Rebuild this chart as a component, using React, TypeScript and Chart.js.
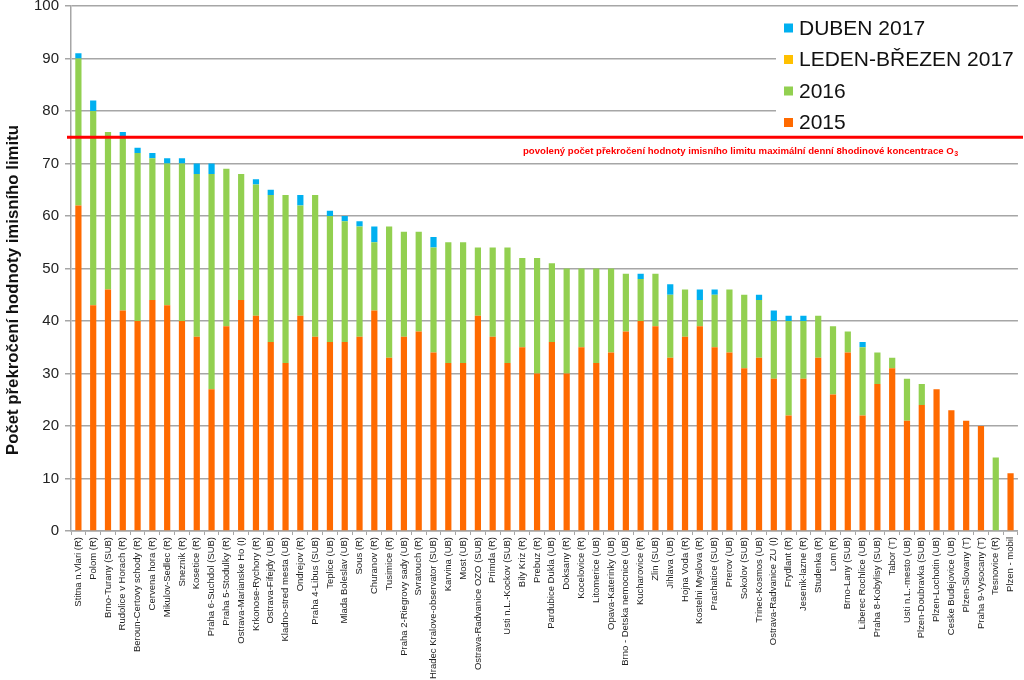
import React, { useEffect, useRef } from "react";
import { Chart, registerables } from "chart.js";

Chart.register(...registerables);

const stations = [
  "Stitna n.Vlari (R)", "Polom (R)", "Brno-Turany (SUB)", "Rudolice v Horach (R)",
  "Beroun-Certovy schody (R)", "Cervena hora (R)", "Mikulov-Sedlec (R)", "Sneznik (R)",
  "Kosetice (R)", "Praha 6-Suchdol (SUB)", "Praha 5-Stodulky (R)", "Ostrava-Marianske Ho (I)",
  "Krkonose-Rychory (R)", "Ostrava-Fifejdy (UB)", "Kladno-stred mesta (UB)", "Ondrejov (R)",
  "Praha 4-Libus (SUB)", "Teplice (UB)", "Mlada Boleslav (UB)", "Sous (R)",
  "Churanov (R)", "Tusimice (R)", "Praha 2-Riegrovy sady (UB)", "Svratouch (R)",
  "Hradec Kralove-observator (SUB)", "Karvina (UB)", "Most (UB)", "Ostrava-Radvanice OZO (SUB)",
  "Primda (R)", "Usti n.L.-Kockov (SUB)", "Bily Kriz (R)", "Prebuz (R)",
  "Pardubice Dukla (UB)", "Doksany (R)", "Kocelovice (R)", "Litomerice (UB)",
  "Opava-Katerinky (UB)", "Brno - Detska nemocnice (UB)", "Kucharovice (R)", "Zlin (SUB)",
  "Jihlava (UB)", "Hojna Voda (R)", "Kostelni Myslova (R)", "Prachatice (SUB)",
  "Prerov (UB)", "Sokolov (SUB)", "Trinec-Kosmos (UB)", "Ostrava-Radvanice ZU (I)",
  "Frydlant (R)", "Jesenik-lazne (R)", "Studenka (R)", "Lom (R)",
  "Brno-Lany (SUB)", "Liberec Rochlice (UB)", "Praha 8-Kobylisy (SUB)", "Tabor (T)",
  "Usti n.L.-mesto (UB)", "Plzen-Doubravka (SUB)", "Plzen-Lochotin (UB)", "Ceske Budejovice (UB)",
  "Plzen-Slovany (T)", "Praha 9-Vysocany (T)", "Tesnovice (R)", "Plzen - mobil",
];

const v2015 = [
  62, 43, 46, 42, 40, 44, 43, 40, 37, 27, 39, 44, 41, 36, 32, 41,
  37, 36, 36, 37, 42, 33, 37, 38, 34, 32, 32, 41, 37, 32, 35, 30,
  36, 30, 35, 32, 34, 38, 40, 39, 33, 37, 39, 35, 34, 31, 33, 29,
  22, 29, 33, 26, 34, 22, 28, 31, 21, 24, 27, 23, 21, 20, 0, 11,
];

const v2016 = [
  28, 37, 30, 33, 32, 27, 27, 30, 31, 41, 30, 24, 25, 28, 32, 21,
  27, 24, 23, 21, 13, 25, 20, 19, 20, 23, 23, 13, 17, 22, 17, 22,
  15, 20, 15, 18, 16, 11, 8, 10, 12, 9, 5, 10, 12, 14, 11, 11,
  18, 11, 8, 13, 4, 13, 6, 2, 8, 4, 0, 0, 0, 0, 14, 0,
];

const vLeden2017 = [
  0, 0, 0, 0, 0, 0, 0, 0, 0, 0, 0, 0, 0, 0, 0, 0,
  0, 0, 0, 0, 0, 0, 0, 0, 0, 0, 0, 0, 0, 0, 0, 0,
  0, 0, 0, 0, 0, 0, 0, 0, 0, 0, 0, 0, 0, 0, 0, 0,
  0, 0, 0, 0, 0, 0, 0, 0, 0, 0, 0, 0, 0, 0, 0, 0,
];

const vDuben2017 = [
  1, 2, 0, 1, 1, 1, 1, 1, 2, 2, 0, 0, 1, 1, 0, 2,
  0, 1, 1, 1, 3, 0, 0, 0, 2, 0, 0, 0, 0, 0, 0, 0,
  0, 0, 0, 0, 0, 0, 1, 0, 2, 0, 2, 1, 0, 0, 1, 2,
  1, 1, 0, 0, 0, 1, 0, 0, 0, 0, 0, 0, 0, 0, 0, 0,
];

const yTicks = [0, 10, 20, 30, 40, 50, 60, 70, 80, 90, 100];
const limitValue = 75;

const seriesNames = ["2015", "2016", "LEDEN-BŘEZEN 2017", "DUBEN 2017"];
const seriesColors = ["#FF6A00", "#92D050", "#FFC000", "#00B0F0"];

const yTitle = "Počet překročení hodnoty imisního limitu";
const limitText = "povolený počet překročení hodnoty imisního limitu maximální denní 8hodinové koncentrace O";
const limitSub = "3";

const FONT = "'Liberation Sans', Arial, sans-serif";

const overlay = {
  id: "overlay",
  beforeDatasetsDraw(chart: any) {
    const ctx = chart.ctx;
    ctx.save();
    ctx.fillStyle = "#ffffff";
    ctx.fillRect(776, 10, 248, 124);
    ctx.restore();
  },
  afterDatasetsDraw(chart: any) {
    const ctx = chart.ctx;
    const y = chart.scales.y.getPixelForValue(limitValue);
    ctx.save();
    ctx.strokeStyle = "#FF0000";
    ctx.lineWidth = 3;
    ctx.beginPath();
    ctx.moveTo(chart.chartArea.left - 4, y);
    ctx.lineTo(1023, y);
    ctx.stroke();

    ctx.fillStyle = "#FF0000";
    ctx.font = `bold 9.6px ${FONT}`;
    ctx.textBaseline = "alphabetic";
    ctx.textAlign = "left";
    const x0 = 523;
    ctx.fillText(limitText, x0, y + 17);
    const w = ctx.measureText(limitText).width;
    ctx.font = `bold 7px ${FONT}`;
    ctx.fillText(limitSub, x0 + w + 0.5, y + 18.5);
    ctx.restore();
  },
  afterDraw(chart: any) {
    const ctx = chart.ctx;
    ctx.save();
    const order = [3, 2, 1, 0];
    const rows = [28, 59.5, 91, 122.5];
    ctx.font = `21px ${FONT}`;
    ctx.textAlign = "left";
    ctx.textBaseline = "alphabetic";
    order.forEach((si, i) => {
      const cy = rows[i];
      ctx.fillStyle = seriesColors[si];
      ctx.fillRect(784, cy - 4.5, 9, 9);
      ctx.fillStyle = "#111111";
      ctx.fillText(seriesNames[si], 799, cy + 6.5);
    });
    ctx.translate(13, 290);
    ctx.rotate(-Math.PI / 2);
    ctx.font = `bold 16.8px ${FONT}`;
    ctx.textAlign = "center";
    ctx.textBaseline = "middle";
    ctx.fillStyle = "#111111";
    ctx.fillText(yTitle, 0, 0);
    ctx.restore();
  },
};

export default function App() {
  const canvasRef = useRef<HTMLCanvasElement | null>(null);

  useEffect(() => {
    document.body.style.margin = "0";
    const canvas = canvasRef.current;
    if (!canvas) return;
    const values = [v2015, v2016, vLeden2017, vDuben2017];
    const chart = new Chart(canvas, {
      type: "bar",
      data: {
        labels: stations,
        datasets: values.map((d, i) => ({
          label: seriesNames[i],
          data: d,
          backgroundColor: seriesColors[i],
          borderWidth: 0,
          stack: "s",
          barPercentage: 0.42,
          categoryPercentage: 1,
        })),
      },
      options: {
        responsive: false,
        animation: false,
        devicePixelRatio: 1,
        layout: { padding: { left: 0, right: 6, top: 6, bottom: 0 } },
        plugins: {
          legend: { display: false },
          tooltip: { enabled: false },
          title: { display: false },
        },
        scales: {
          x: {
            stacked: true,
            offset: true,
            grid: {
              display: true,
              drawOnChartArea: false,
              drawTicks: true,
              tickLength: 4,
              color: "#A6A6A6",
              offset: true,
            },
            border: { display: true, color: "#A6A6A6", width: 1.5 },
            ticks: {
              autoSkip: false,
              maxRotation: 90,
              minRotation: 90,
              padding: 2,
              color: "#222222",
              font: { family: FONT, size: 9.5 },
            },
            afterFit(scale: any) {
              scale.height = 149;
            },
          },
          y: {
            stacked: true,
            min: 0,
            max: 100,
            afterBuildTicks(scale: any) {
              scale.ticks = yTicks.map((v) => ({ value: v }));
            },
            grid: {
              color: "#A6A6A6",
              lineWidth: 1.5,
              tickLength: 6,
              drawTicks: true,
            },
            border: { display: true, color: "#A6A6A6", width: 1.5 },
            ticks: {
              padding: 6,
              color: "#222222",
              font: { family: FONT, size: 15 },
            },
            afterFit(scale: any) {
              scale.width = 71;
              scale.paddingTop = 0;
              scale.paddingBottom = 0;
            },
          },
        },
      },
      plugins: [overlay],
    });
    return () => chart.destroy();
  }, []);

  return (
    <div style={{ width: 1024, height: 680, position: "relative", background: "#ffffff" }}>
      <canvas ref={canvasRef} width={1024} height={680} style={{ display: "block" }} />
    </div>
  );
}
